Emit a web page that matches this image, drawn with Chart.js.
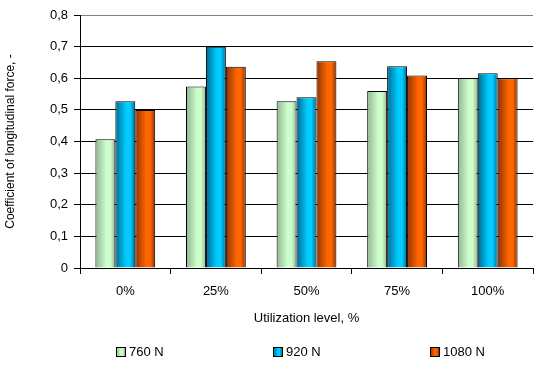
<!DOCTYPE html>
<html lang="en">
<head>
    <meta charset="UTF-8" />
    <title>Coefficient of longitudinal force</title>
    <script src="https://cdn.jsdelivr.net/npm/chart.js"></script>
    <style>
        * { box-sizing: border-box; margin: 0; padding: 0; }
        body { background: #fff; width: 549px; height: 375px; overflow: hidden; }
        #wrap { position: relative; width: 549px; height: 375px; }
    </style>
</head>
<body>
    <div id="wrap"><canvas id="chart"></canvas></div>

    <script>
        // data
        const categories = ['0%', '25%', '50%', '75%', '100%'];
        const seriesNames = ['760 N', '920 N', '1080 N'];
        const values760 = [0.407, 0.574, 0.527, 0.560, 0.600];
        const values920 = [0.527, 0.700, 0.540, 0.638, 0.616];
        const values1080 = [0.500, 0.636, 0.654, 0.609, 0.600];
        const yTicks = [0, 0.1, 0.2, 0.3, 0.4, 0.5, 0.6, 0.7, 0.8];

        // edge colour, middle colour (cylinder-like shading)
        const shades = [
            ['#93b493', '#ccffcc'],
            ['#006a92', '#00ccff'],
            ['#8f3300', '#ff6600']
        ];

        const fontFamily = "'Liberation Sans', Arial, sans-serif";
        Chart.defaults.font.family = fontFamily;
        Chart.defaults.font.size = 13;
        Chart.defaults.color = '#000';

        function barGradient(ctx, x0, x1, s) {
            const g = ctx.createLinearGradient(x0, 0, x1, 0);
            g.addColorStop(0, s[0]);
            g.addColorStop(0.55, s[1]);
            g.addColorStop(0.75, s[1]);
            g.addColorStop(1, s[0]);
            return g;
        }

        // shade every bar with its own horizontal gradient
        const shadePlugin = {
            id: 'shade',
            beforeDatasetsDraw(chart) {
                chart.data.datasets.forEach((ds, i) => {
                    chart.getDatasetMeta(i).data.forEach(bar => {
                        const half = bar.width / 2;
                        bar.options.backgroundColor = barGradient(chart.ctx, bar.x - half, bar.x + half, shades[i]);
                    });
                });
            }
        };

        // legend spread along the bottom like the original
        const legendPlugin = {
            id: 'spreadLegend',
            afterDraw(chart) {
                const ctx = chart.ctx;
                const xs = [116, 273, 430];
                const y = 352;
                ctx.save();
                ctx.font = '13px ' + fontFamily;
                ctx.textBaseline = 'middle';
                chart.data.datasets.forEach((ds, i) => {
                    const x = xs[i];
                    ctx.fillStyle = barGradient(ctx, x, x + 9, shades[i]);
                    ctx.fillRect(x + 0.5, y - 4.5, 9, 9);
                    ctx.strokeStyle = '#000';
                    ctx.lineWidth = 1;
                    ctx.strokeRect(x + 0.5, y - 4.5, 9, 9);
                    ctx.fillStyle = '#000';
                    ctx.fillText(ds.label, x + 13, y + 0.5);
                });
                ctx.restore();
            }
        };

        const makeSet = (i, vals) => ({
            label: seriesNames[i],
            data: vals,
            backgroundColor: () => shades[i][1],
            borderColor: '#000',
            borderWidth: 1,
            borderSkipped: 'bottom',
            categoryPercentage: 0.66,
            barPercentage: 1.0
        });

        new Chart(document.getElementById('chart'), {
            type: 'bar',
            data: {
                labels: categories,
                datasets: [makeSet(0, values760), makeSet(1, values920), makeSet(2, values1080)]
            },
            options: {
                responsive: true,
                maintainAspectRatio: false,
                animation: false,
                layout: { padding: { left: 0, right: 16, top: 15, bottom: 45 } },
                plugins: {
                    legend: { display: false },
                    tooltip: { enabled: false }
                },
                scales: {
                    x: {
                        afterFit: s => { s.height = 62; },
                        grid: {
                            offset: true,
                            drawOnChartArea: true,
                            color: c => c.index === categories.length ? '#808080' : 'rgba(0,0,0,0)',
                            tickColor: '#000',
                            tickLength: 6
                        },
                        border: { color: '#000' },
                        ticks: { padding: 10, color: '#000' },
                        title: {
                            display: true,
                            text: 'Utilization level, %',
                            color: '#000',
                            padding: { top: 10, bottom: 4 }
                        }
                    },
                    y: {
                        min: 0,
                        max: 0.8,
                        afterBuildTicks: s => { s.ticks = yTicks.map(v => ({ value: v })); },
                        afterFit: s => { s.width = 80; },
                        grid: {
                            color: c => c.tick && c.tick.value === 0.8 ? '#808080' : '#000',
                            tickColor: '#000',
                            tickLength: 6
                        },
                        border: { color: '#000' },
                        ticks: {
                            padding: 6,
                            color: '#000',
                            callback: v => v === 0 ? '0' : v.toFixed(1).replace('.', ',')
                        },
                        title: {
                            display: true,
                            text: 'Coefficient of longitudinal force, -',
                            color: '#000',
                            font: { size: 12 },
                            padding: { top: 3, bottom: 0 }
                        }
                    }
                }
            },
            plugins: [shadePlugin, legendPlugin]
        });
    </script>
</body>
</html>
